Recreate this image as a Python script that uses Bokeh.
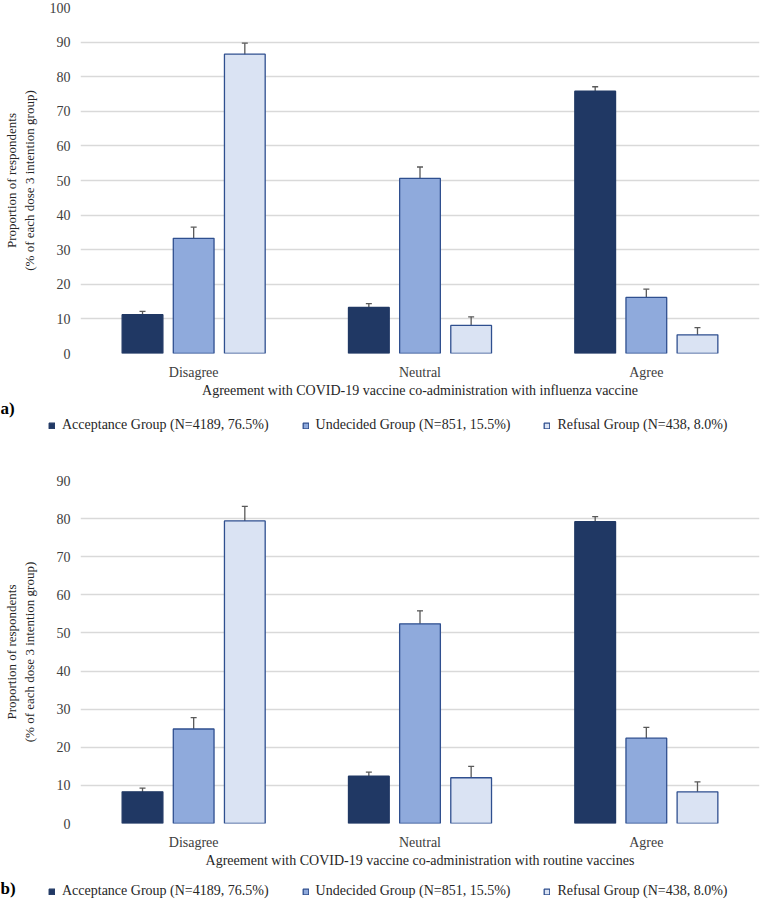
from bokeh.plotting import figure
from bokeh.models import (ColumnDataSource, Range1d, FactorRange, FixedTicker, Whisker,
                          TeeHead, Legend, LegendItem, Label)
from bokeh.transform import dodge
from bokeh.layouts import column
from bokeh.embed import file_html
from bokeh.resources import INLINE

# ---------------- data ----------------
categories = ["Disagree", "Neutral", "Agree"]
groups = ["Acceptance Group (N=4189, 76.5%)",
          "Undecided Group (N=851, 15.5%)",
          "Refusal Group (N=438, 8.0%)"]

# panel a: influenza vaccine
a_accept = [11.2, 13.3, 75.8]
a_accept_err = [1.0, 1.1, 1.3]
a_undecided = [33.3, 50.6, 16.2]
a_undecided_err = [3.2, 3.3, 2.4]
a_refusal = [86.5, 8.1, 5.4]
a_refusal_err = [3.2, 2.5, 2.1]

# panel b: routine vaccines
b_accept = [8.3, 12.4, 79.2]
b_accept_err = [1.0, 1.1, 1.3]
b_undecided = [24.8, 52.4, 22.4]
b_undecided_err = [3.0, 3.4, 2.8]
b_refusal = [79.4, 12.0, 8.3]
b_refusal_err = [3.8, 3.0, 2.6]

a_ticks = [0, 10, 20, 30, 40, 50, 60, 70, 80, 90, 100]
b_ticks = [0, 10, 20, 30, 40, 50, 60, 70, 80, 90]

a_xtitle = "Agreement with COVID-19 vaccine co-administration with influenza vaccine"
b_xtitle = "Agreement with COVID-19 vaccine co-administration with routine vaccines"
y_title = "Proportion of respondents\n(% of each dose 3 intention group)"

# ---------------- style ----------------
FONT = "Liberation Serif"
fills = ["#203864", "#8faadc", "#dae3f3"]
lines = ["#203864", "#2f4f8f", "#2f4f8f"]
offsets = [-0.226, 0.0, 0.226]
BAR_W = 0.18
ERR_COLOR = "#595959"
W = 761


def make_panel(series, errs, ticks, xtitle, height, border_top, border_bottom, ylabel_standoff):
    p = figure(x_range=FactorRange(*categories), y_range=Range1d(0, ticks[-1]),
               width=W, height=height, output_backend="svg", toolbar_location=None,
               min_border_left=74, min_border_right=2, min_border_top=border_top,
               min_border_bottom=border_bottom)
    p.outline_line_color = None
    p.background_fill_color = "white"
    p.border_fill_color = "white"
    p.xgrid.grid_line_color = None
    p.ygrid.grid_line_color = "#d9d9d9"
    p.ygrid.grid_line_width = 1.3

    sources = []
    for i in range(3):
        vals = series[i]
        e = errs[i]
        src = ColumnDataSource(dict(
            cat=categories, top=vals,
            upper=[v + d for v, d in zip(vals, e)],
            lower=[v - d for v, d in zip(vals, e)]))
        sources.append(src)
        p.vbar(x=dodge("cat", offsets[i], range=p.x_range), top="top", width=BAR_W,
               source=src, fill_color=fills[i], line_color=lines[i], line_width=1.3)
        w = Whisker(base=dodge("cat", offsets[i], range=p.x_range), upper="upper",
                    lower="lower", source=src, line_color=ERR_COLOR, line_width=1.3,
                    upper_head=TeeHead(size=6, line_color=ERR_COLOR, line_width=1.3),
                    lower_head=TeeHead(size=6, line_color=ERR_COLOR, line_width=1.3))
        p.add_layout(w)

    for ax in (p.xaxis, p.yaxis):
        ax.axis_line_color = None
        ax.major_tick_line_color = None
        ax.minor_tick_line_color = None
        ax.major_tick_out = 0
        ax.major_tick_in = 0
        ax.minor_tick_out = 0
        ax.minor_tick_in = 0
        ax.major_label_text_font = FONT
        ax.major_label_text_font_size = "14px"
        ax.major_label_text_color = "#404040"
        ax.axis_label_text_font = FONT
        ax.axis_label_text_font_style = "normal"
        ax.axis_label_text_color = "#262626"

    # y axis
    p.yaxis.ticker = FixedTicker(ticks=ticks)
    p.yaxis.major_label_standoff = 10
    p.yaxis.axis_label = y_title
    p.yaxis.axis_label_text_font_size = "13px"
    p.yaxis.axis_label_standoff = ylabel_standoff

    # x axis
    p.xaxis.major_label_standoff = 11
    p.xaxis.axis_label = xtitle
    p.xaxis.axis_label_text_font_size = "14px"
    p.xaxis.axis_label_standoff = 0
    return p, sources


def make_legend_row(tag, sources, height, tag_y, legend_y):
    lp = figure(width=W, height=height, output_backend="svg", toolbar_location=None,
                x_range=FactorRange(*categories), y_range=Range1d(0, 1),
                x_axis_location=None, y_axis_location=None, frame_align=False,
                min_border_left=0, min_border_right=0, min_border_top=0, min_border_bottom=0)
    lp.outline_line_color = None
    lp.xgrid.grid_line_color = None
    lp.ygrid.grid_line_color = None
    lp.background_fill_color = "white"
    lp.border_fill_color = "white"
    rs = []
    for i in range(3):
        r = lp.vbar(x="cat", top="top", width=BAR_W, source=sources[i],
                    fill_color=fills[i], line_color=lines[i], line_width=1.3)
        r.visible = False
        rs.append(r)
    legend = Legend(items=[LegendItem(label=groups[i], renderers=[rs[i]]) for i in range(3)],
                    orientation="horizontal", location=(48, legend_y),
                    padding=0, margin=0, spacing=33, glyph_width=7, glyph_height=7,
                    label_standoff=7, label_height=14, label_text_font=FONT,
                    label_text_font_size="14px", label_text_color="#262626",
                    border_line_color=None, background_fill_alpha=0)
    lp.add_layout(legend)
    lab = Label(x=0, y=tag_y, x_units="screen", y_units="screen", text=tag,
                text_font=FONT, text_font_style="bold", text_font_size="17px",
                text_baseline="middle", text_color="black")
    lp.add_layout(lab)
    return lp


pa, srcs_a = make_panel([a_accept, a_undecided, a_refusal],
                        [a_accept_err, a_undecided_err, a_refusal_err],
                        a_ticks, a_xtitle, height=400, border_top=7, border_bottom=46,
                        ylabel_standoff=10)
la = make_legend_row("a)", srcs_a, height=37, tag_y=29, legend_y=4)
pb, srcs_b = make_panel([b_accept, b_undecided, b_refusal],
                        [b_accept_err, b_undecided_err, b_refusal_err],
                        b_ticks, b_xtitle, height=433, border_top=43, border_bottom=46,
                        ylabel_standoff=17)
lb = make_legend_row("b)", srcs_b, height=30, tag_y=12, legend_y=1)

layout = column(pa, la, pb, lb, spacing=0)
open("out.html", "w").write(file_html(layout, INLINE))
